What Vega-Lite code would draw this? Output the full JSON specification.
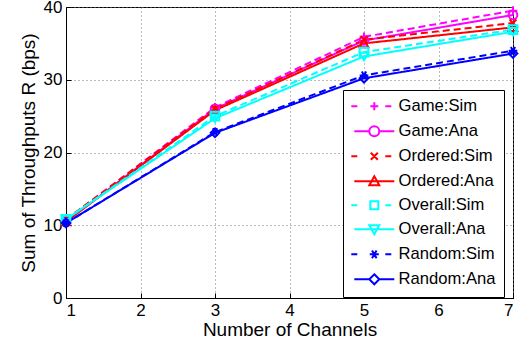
{
  "$schema": "https://vega.github.io/schema/vega-lite/v6.json",
  "width": 447,
  "height": 291,
  "autosize": {"type": "none"},
  "padding": {"left": 66, "top": 7, "right": 6, "bottom": 51},
  "background": "white",
  "config": {
    "view": {"stroke": "black", "strokeWidth": 1},
    "font": "Liberation Sans",
    "axis": {
      "domainColor": "black",
      "domainWidth": 1,
      "tickColor": "black",
      "tickSize": -5,
      "labelColor": "black",
      "labelFont": "Liberation Sans",
      "labelFontSize": 17,
      "titleFont": "Liberation Sans",
      "titleFontSize": 19,
      "titleFontWeight": "normal",
      "titleColor": "black",
      "grid": true,
      "gridColor": "#777777",
      "gridDash": [1, 3],
      "gridWidth": 1
    }
  },
  "data": {
    "values": [
      {"x": 1, "v": 10.7, "s": "Game:Sim"},
      {"x": 3, "v": 26.2, "s": "Game:Sim"},
      {"x": 5, "v": 35.9, "s": "Game:Sim"},
      {"x": 7, "v": 39.5, "s": "Game:Sim"},
      {"x": 1, "v": 10.5, "s": "Game:Ana"},
      {"x": 3, "v": 26.0, "s": "Game:Ana"},
      {"x": 5, "v": 35.4, "s": "Game:Ana"},
      {"x": 7, "v": 38.9, "s": "Game:Ana"},
      {"x": 1, "v": 10.8, "s": "Ordered:Sim"},
      {"x": 3, "v": 26.0, "s": "Ordered:Sim"},
      {"x": 5, "v": 35.5, "s": "Ordered:Sim"},
      {"x": 7, "v": 37.8, "s": "Ordered:Sim"},
      {"x": 1, "v": 10.5, "s": "Ordered:Ana"},
      {"x": 3, "v": 25.8, "s": "Ordered:Ana"},
      {"x": 5, "v": 35.0, "s": "Ordered:Ana"},
      {"x": 7, "v": 37.2, "s": "Ordered:Ana"},
      {"x": 1, "v": 10.8, "s": "Overall:Sim"},
      {"x": 3, "v": 25.0, "s": "Overall:Sim"},
      {"x": 5, "v": 33.8, "s": "Overall:Sim"},
      {"x": 7, "v": 36.9, "s": "Overall:Sim"},
      {"x": 1, "v": 10.8, "s": "Overall:Ana"},
      {"x": 3, "v": 24.7, "s": "Overall:Ana"},
      {"x": 5, "v": 33.2, "s": "Overall:Ana"},
      {"x": 7, "v": 36.6, "s": "Overall:Ana"},
      {"x": 1, "v": 10.3, "s": "Random:Sim"},
      {"x": 3, "v": 22.8, "s": "Random:Sim"},
      {"x": 5, "v": 30.6, "s": "Random:Sim"},
      {"x": 7, "v": 34.0, "s": "Random:Sim"},
      {"x": 1, "v": 10.3, "s": "Random:Ana"},
      {"x": 3, "v": 22.7, "s": "Random:Ana"},
      {"x": 5, "v": 30.2, "s": "Random:Ana"},
      {"x": 7, "v": 33.6, "s": "Random:Ana"}
    ]
  },
  "encoding": {
    "x": {
      "field": "x",
      "type": "quantitative",
      "scale": {"domain": [1, 7], "nice": false},
      "axis": {"values": [1, 2, 3, 4, 5, 6, 7], "title": "Number of Channels", "labelPadding": 9, "titlePadding": 2, "format": "d"}
    },
    "y": {
      "field": "v",
      "type": "quantitative",
      "scale": {"domain": [0, 40], "nice": false},
      "axis": {"values": [0, 10, 20, 30, 40], "title": "Sum of Throughputs R (bps)", "labelPadding": 9, "titlePadding": 5}
    }
  },
  "layer": [
    {
      "mark": {"type": "line", "strokeWidth": 2},
      "encoding": {
        "color": {
          "field": "s", "type": "nominal",
          "scale": {"domain": ["Game:Sim", "Game:Ana", "Ordered:Sim", "Ordered:Ana", "Overall:Sim", "Overall:Ana", "Random:Sim", "Random:Ana"],
                    "range": ["#ff00ff", "#ff00ff", "#ff0000", "#ff0000", "#00ffff", "#00ffff", "#0000ff", "#0000ff"]},
          "legend": null
        },
        "strokeDash": {
          "field": "s", "type": "nominal",
          "scale": {"domain": ["Game:Sim", "Game:Ana", "Ordered:Sim", "Ordered:Ana", "Overall:Sim", "Overall:Ana", "Random:Sim", "Random:Ana"],
                    "range": [[7, 4], [1, 0], [7, 4], [1, 0], [7, 4], [1, 0], [7, 4], [1, 0]]},
          "legend": null
        }
      }
    },
    {
      "mark": {"type": "point", "filled": false, "strokeWidth": 2, "size": 75, "opacity": 1},
      "encoding": {
        "color": {
          "field": "s", "type": "nominal",
          "scale": {"domain": ["Game:Sim", "Game:Ana", "Ordered:Sim", "Ordered:Ana", "Overall:Sim", "Overall:Ana", "Random:Sim", "Random:Ana"],
                    "range": ["#ff00ff", "#ff00ff", "#ff0000", "#ff0000", "#00ffff", "#00ffff", "#0000ff", "#0000ff"]},
          "legend": null
        },
        "shape": {
          "field": "s", "type": "nominal",
          "scale": {"domain": ["Game:Sim", "Game:Ana", "Ordered:Sim", "Ordered:Ana", "Overall:Sim", "Overall:Ana", "Random:Sim", "Random:Ana"],
                    "range": ["M-1,0H1M0,-1V1", "circle", "M-0.8,-0.8L0.8,0.8M-0.8,0.8L0.8,-0.8", "triangle-up", "square", "triangle-down", "M-1,0H1M-0.5,-0.87L0.5,0.87M-0.5,0.87L0.5,-0.87", "diamond"]},
          "legend": null
        }
      }
    },
    {
      "mark": {"type": "point", "filled": false, "strokeWidth": 2, "size": 70, "opacity": 0},
      "encoding": {
        "color": {
          "field": "s", "type": "nominal",
          "scale": {"domain": ["Game:Sim", "Game:Ana", "Ordered:Sim", "Ordered:Ana", "Overall:Sim", "Overall:Ana", "Random:Sim", "Random:Ana"],
                    "range": ["#ff00ff", "#ff00ff", "#ff0000", "#ff0000", "#00ffff", "#00ffff", "#0000ff", "#0000ff"]},
          "legend": {
            "title": null, "orient": "none", "legendX": 277, "legendY": 83,
            "padding": 8, "symbolSize": 100, "symbolOffset": 15, "labelOffset": 16,
            "labelExpr": "datum.label + '\u2002\u2009'",
            "rowPadding": 7, "labelFontSize": 16.6, "labelFont": "Liberation Sans", "labelColor": "black",
            "strokeColor": "black", "fillColor": "white", "symbolStrokeWidth": 2, "symbolOpacity": 1,
            "symbolFillColor": "transparent", "cornerRadius": 0
          }
        },
        "shape": {
          "field": "s", "type": "nominal",
          "scale": {"domain": ["Game:Sim", "Game:Ana", "Ordered:Sim", "Ordered:Ana", "Overall:Sim", "Overall:Ana", "Random:Sim", "Random:Ana"],
                    "range": [
                      "M-4.6,0H-3.4M2.2,0H3.4M-0.8,0H0.8M0,-0.8V0.8",
                      "M-4,0H-1M1,0H4M-1,0A1,1,0,1,1,1,0A1,1,0,1,1,-1,0Z",
                      "M-4.6,0H-3.4M2.2,0H3.4M-0.7,-0.7L0.7,0.7M-0.7,0.7L0.7,-0.7",
                      "M-4,0H4M0,-1L1,0.8H-1Z",
                      "M-4.6,0H-3.4M2.2,0H3.4M-0.8,-0.8H0.8V0.8H-0.8Z",
                      "M-4,0H4M0,1L1,-0.8H-1Z",
                      "M-4.6,0H-3.4M2.2,0H3.4M-0.9,0H0.9M-0.45,-0.78L0.45,0.78M-0.45,0.78L0.45,-0.78",
                      "M-4,0H-1M1,0H4M0,-1L1,0L0,1L-1,0Z"
                    ]},
          "legend": {
            "title": null, "orient": "none", "legendX": 277, "legendY": 83,
            "padding": 8, "symbolSize": 100, "symbolOffset": 15, "labelOffset": 16,
            "labelExpr": "datum.label + '\u2002\u2009'",
            "rowPadding": 7, "labelFontSize": 16.6, "labelFont": "Liberation Sans", "labelColor": "black",
            "strokeColor": "black", "fillColor": "white", "symbolStrokeWidth": 2, "symbolOpacity": 1,
            "symbolFillColor": "transparent", "cornerRadius": 0
          }
        }
      }
    }
  ],
  "resolve": {"scale": {"color": "independent", "shape": "independent", "strokeDash": "independent"}}
}
